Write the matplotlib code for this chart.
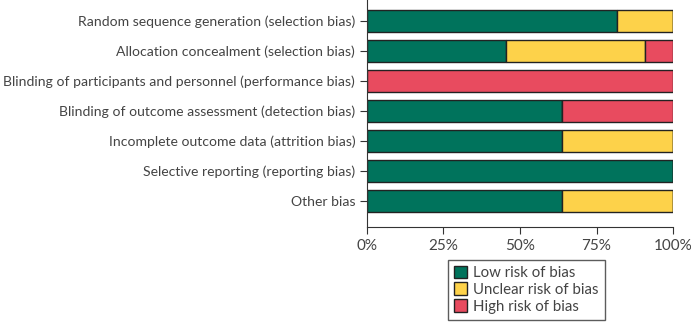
import matplotlib.pyplot as plt
from matplotlib.patches import Patch

plt.rcParams['font.family'] = ['Lato', 'DejaVu Sans']

domains = [
    'Random sequence generation (selection bias)',
    'Allocation concealment (selection bias)',
    'Blinding of participants and personnel (performance bias)',
    'Blinding of outcome assessment (detection bias)',
    'Incomplete outcome data (attrition bias)',
    'Selective reporting (reporting bias)',
    'Other bias',
]
low = [9/11, 5/11, 0, 7/11, 7/11, 1.0, 7/11]
unclear = [2/11, 5/11, 0, 0, 4/11, 0, 4/11]
high = [0, 1/11, 1.0, 4/11, 0, 0, 0]

green = '#00735C'
yellow = '#FDD24A'
red = '#E84B5F'

fig = plt.figure(figsize=(6.91, 3.24), dpi=100)
ax = fig.add_axes([367/691, 1 - 227/324, 306/691, 227/324])

y = list(range(len(domains)))
left2 = [a + b for a, b in zip(low, unclear)]
kw = dict(height=0.75, edgecolor='#222222', linewidth=1)
ax.barh(y, low, color=green, **kw)
ax.barh(y, unclear, left=low, color=yellow, **kw)
ax.barh(y, high, left=left2, color=red, **kw)

ax.set_ylim(len(domains) - 1 + 0.87, -0.7)
ax.set_xlim(0, 1)
ax.set_yticks(y)
ax.set_yticklabels(domains, fontsize=10.1, color='#444444')
ax.set_xticks([0, 0.25, 0.5, 0.75, 1.0])
ax.set_xticklabels(['0%', '25%', '50%', '75%', '100%'], fontsize=11, color='#444444')
for s in ['top', 'right']:
    ax.spines[s].set_visible(False)
for s in ['left', 'bottom']:
    ax.spines[s].set_color('#333333')
ax.tick_params(axis='both', color='#333333', length=5)

handles = [Patch(facecolor=green, edgecolor='#222222', label='Low risk of bias'),
           Patch(facecolor=yellow, edgecolor='#222222', label='Unclear risk of bias'),
           Patch(facecolor=red, edgecolor='#222222', label='High risk of bias')]
leg = fig.legend(handles=handles, loc='lower left', bbox_to_anchor=(440/691, -3/324),
                 fontsize=10.8, frameon=True, fancybox=False, handlelength=0.9,
                 handleheight=0.9, handletextpad=0.4, labelspacing=0.15, borderpad=0.4)
leg.get_frame().set_edgecolor('#333333')
for t in leg.get_texts():
    t.set_color('#444444')

plt.savefig('out.png', dpi=100)
